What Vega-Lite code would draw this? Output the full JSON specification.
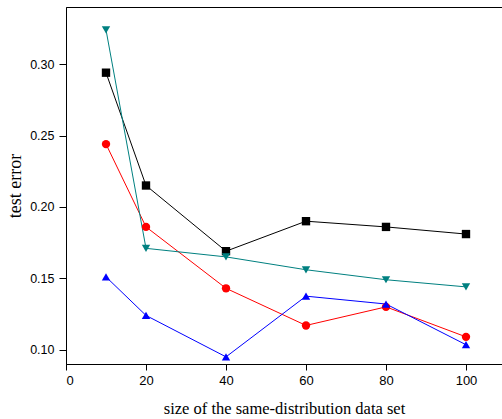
{
  "$schema": "https://vega.github.io/schema/vega-lite/v6.json",
  "width": 436,
  "height": 357,
  "autosize": {"type": "none"},
  "padding": {"left": 66, "top": 7, "right": 0, "bottom": 55},
  "background": "white",
  "config": {
    "view": {"stroke": "#000", "strokeWidth": 1},
    "axis": {"grid": false, "domainColor": "#000", "tickColor": "#000", "labelColor": "#000", "titleColor": "#000"}
  },
  "data": {
    "values": [
      {"method": "kNN", "size": 10, "error": 0.294},
      {"method": "kNN", "size": 20, "error": 0.215},
      {"method": "kNN", "size": 40, "error": 0.169},
      {"method": "kNN", "size": 60, "error": 0.190},
      {"method": "kNN", "size": 80, "error": 0.186},
      {"method": "kNN", "size": 100, "error": 0.181},
      {"method": "COITL", "size": 10, "error": 0.244},
      {"method": "COITL", "size": 20, "error": 0.186},
      {"method": "COITL", "size": 40, "error": 0.143},
      {"method": "COITL", "size": 60, "error": 0.117},
      {"method": "COITL", "size": 80, "error": 0.130},
      {"method": "COITL", "size": 100, "error": 0.109},
      {"method": "TrAdaBoost", "size": 10, "error": 0.151},
      {"method": "TrAdaBoost", "size": 20, "error": 0.124},
      {"method": "TrAdaBoost", "size": 40, "error": 0.095},
      {"method": "TrAdaBoost", "size": 60, "error": 0.1375},
      {"method": "TrAdaBoost", "size": 80, "error": 0.132},
      {"method": "TrAdaBoost", "size": 100, "error": 0.1035},
      {"method": "Aux-kNN", "size": 10, "error": 0.324},
      {"method": "Aux-kNN", "size": 20, "error": 0.171},
      {"method": "Aux-kNN", "size": 40, "error": 0.165},
      {"method": "Aux-kNN", "size": 60, "error": 0.156},
      {"method": "Aux-kNN", "size": 80, "error": 0.149},
      {"method": "Aux-kNN", "size": 100, "error": 0.144}
    ]
  },
  "layer": [
    {
      "mark": {"type": "line", "strokeWidth": 1},
      "encoding": {
        "x": {"field": "size", "type": "quantitative", "scale": {"domain": [0, 109], "nice": false, "zero": false},
          "axis": {"values": [0, 20, 40, 60, 80, 100], "tickSize": 6, "labelPadding": 4, "labelFont": "Liberation Sans", "labelFontSize": 13,
            "title": "size of the same-distribution data set", "titleFont": "Liberation Serif", "titleFontSize": 16.5, "titleFontWeight": "normal", "titlePadding": 13}},
        "y": {"field": "error", "type": "quantitative", "scale": {"domain": [0.09, 0.34], "nice": false, "zero": false},
          "axis": {"values": [0.1, 0.15, 0.2, 0.25, 0.3], "format": ".2f", "tickSize": 7, "labelPadding": 5, "labelFont": "Liberation Sans", "labelFontSize": 12.5,
            "title": "test error", "titleFont": "Liberation Serif", "titleFontSize": 18, "titleFontWeight": "normal", "titlePadding": 5}},
        "stroke": {"field": "method", "type": "nominal",
          "scale": {"domain": ["kNN", "COITL", "TrAdaBoost", "Aux-kNN"], "range": ["#000000", "#ff0000", "#0000ff", "#008080"]},
          "legend": null}
      }
    },
    {
      "mark": {"type": "point", "filled": true, "opacity": 1, "size": 70},
      "encoding": {
        "x": {"field": "size", "type": "quantitative"},
        "y": {"field": "error", "type": "quantitative"},
        "color": {"field": "method", "type": "nominal",
          "scale": {"domain": ["kNN", "COITL", "TrAdaBoost", "Aux-kNN"], "range": ["#000000", "#ff0000", "#0000ff", "#008080"]},
          "legend": {
            "title": null, "orient": "none", "legendX": 270, "legendY": 23, "padding": 5,
            "strokeColor": "#000", "fillColor": "white",
            "labelFont": "Liberation Serif", "labelFontSize": 16.5, "labelColor": "#000",
            "symbolOffset": 11, "labelOffset": 30, "rowPadding": 5, "symbolSize": 70,
            "labelExpr": "datum.label === 'kNN' ? '𝑘NN' : datum.label === 'Aux-kNN' ? 'Aux-𝑘NN' : datum.label"
          }},
        "shape": {"field": "method", "type": "nominal",
          "scale": {"domain": ["kNN", "COITL", "TrAdaBoost", "Aux-kNN"], "range": ["square", "circle", "triangle-up", "triangle-down"]},
          "legend": null}
      }
    }
  ]
}
